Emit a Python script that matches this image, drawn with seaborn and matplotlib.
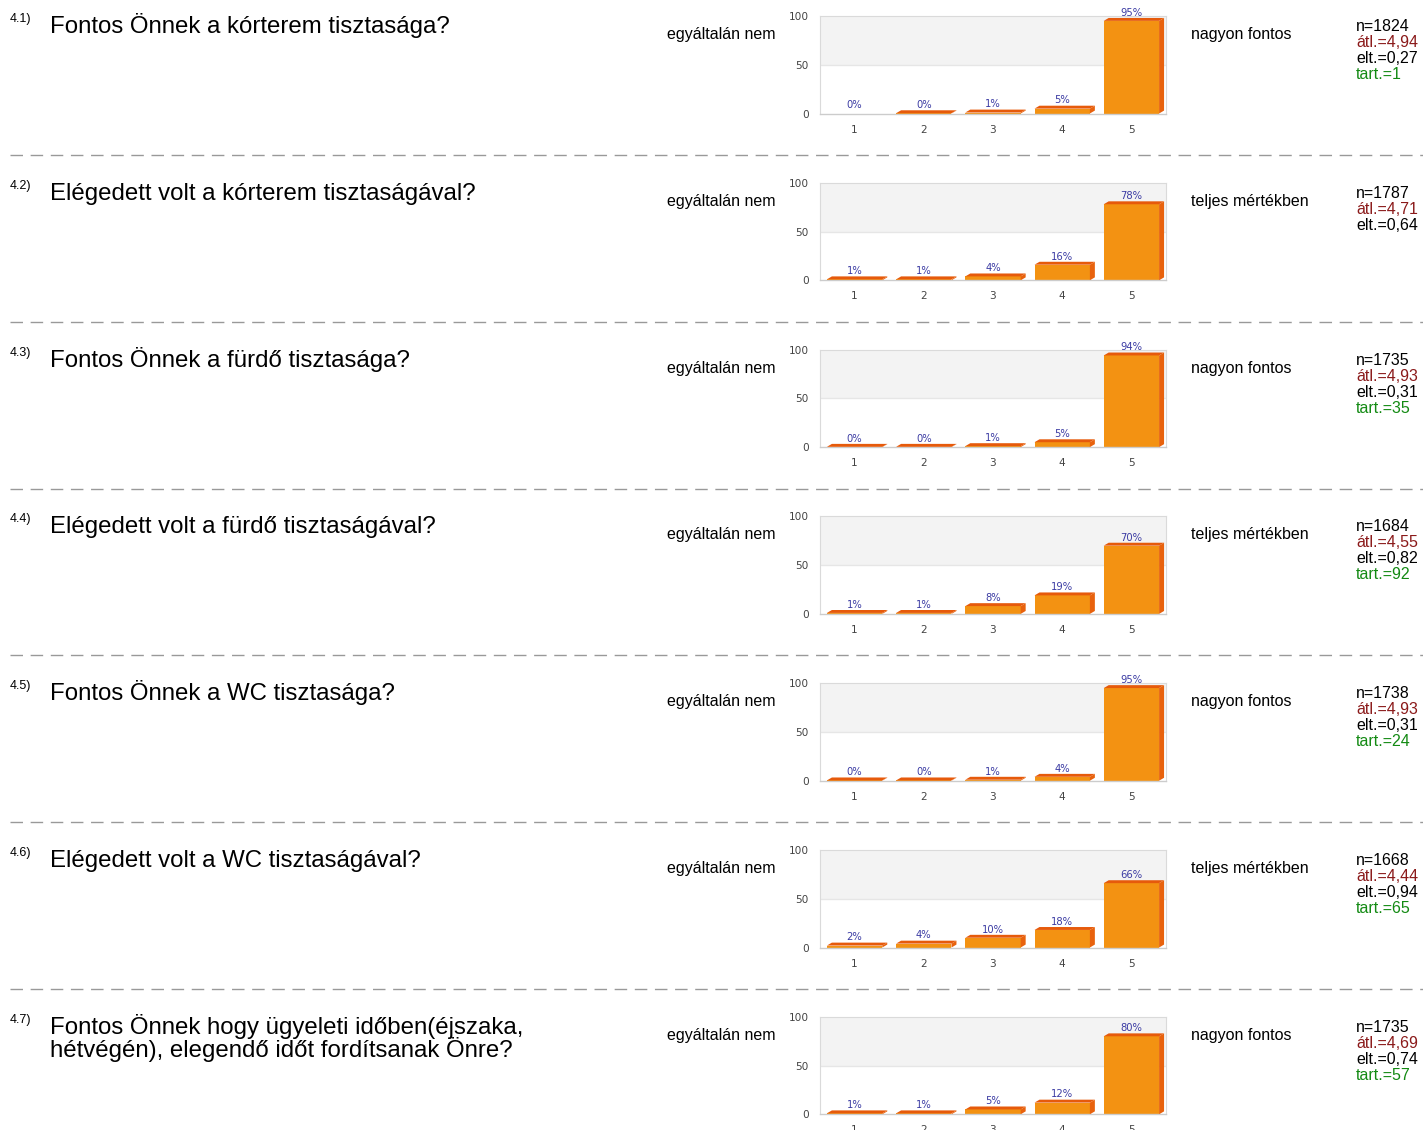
import matplotlib
matplotlib.use('Agg')
import matplotlib.pyplot as plt
from matplotlib.patches import Polygon
from matplotlib.lines import Line2D
import seaborn as sns

CATS = ['1', '2', '3', '4', '5']

NUMBERS = ['4.1)', '4.2)', '4.3)', '4.4)', '4.5)', '4.6)', '4.7)']
QUESTIONS = [
    'Fontos Önnek a kórterem tisztasága?',
    'Elégedett volt a kórterem tisztaságával?',
    'Fontos Önnek a fürdő tisztasága?',
    'Elégedett volt a fürdő tisztaságával?',
    'Fontos Önnek a WC tisztasága?',
    'Elégedett volt a WC tisztaságával?',
    'Fontos Önnek hogy ügyeleti időben(éjszaka,\nhétvégén), elegendő időt fordítsanak Önre?',
]
LEFT_LABELS = ['egyáltalán nem'] * 7
RIGHT_LABELS = ['nagyon fontos', 'teljes mértékben', 'nagyon fontos', 'teljes mértékben',
                'nagyon fontos', 'teljes mértékben', 'nagyon fontos']

# percentages per answer 1..5 (rounded values shown as labels)
PCT_41 = [0, 0.3, 1, 5, 95]
PCT_42 = [1, 1, 4, 16, 78]
PCT_43 = [0.3, 0.3, 1, 5, 94]
PCT_44 = [1, 1, 8, 19, 70]
PCT_45 = [0.3, 0.3, 1, 4, 95]
PCT_46 = [2, 4, 10, 18, 66]
PCT_47 = [1, 1, 5, 12, 80]
PERCENTS = [PCT_41, PCT_42, PCT_43, PCT_44, PCT_45, PCT_46, PCT_47]

N_VALUES = ['1824', '1787', '1735', '1684', '1738', '1668', '1735']
MEANS = ['4,94', '4,71', '4,93', '4,55', '4,93', '4,44', '4,69']
STDS = ['0,27', '0,64', '0,31', '0,82', '0,31', '0,94', '0,74']
TART = ['1', None, '35', '92', '24', '65', '57']

W, H = 1423, 1130
ROW_PITCH = 166.8
FRONT = '#F39212'
TOP = '#E65A0B'
SIDE = '#E8620D'


def fx(x):
    return x / W


def fy(y):
    return 1 - y / H


sns.set_style('white')
plt.rcParams['font.family'] = ['Liberation Sans', 'DejaVu Sans']

fig = plt.figure(figsize=(W / 100, H / 100), dpi=100)
fig.patch.set_facecolor('white')

for i, vals in enumerate(PERCENTS):
    r0 = i * ROW_PITCH

    # texts
    fig.text(fx(10), fy(r0 + 22), NUMBERS[i], fontsize=9, va='baseline', color='black')
    lines = QUESTIONS[i].split('\n')
    for j, line in enumerate(lines):
        fig.text(fx(50), fy(r0 + 33 + j * 23), line, fontsize=17.3, va='baseline', color='black')
    fig.text(fx(667), fy(r0 + 39), LEFT_LABELS[i], fontsize=11.5, va='baseline', color='black')
    fig.text(fx(1191), fy(r0 + 39), RIGHT_LABELS[i], fontsize=11.5, va='baseline', color='black')
    stats = [('n=' + N_VALUES[i], 'black'), ('átl.=' + MEANS[i], '#8B1A1A'),
             ('elt.=' + STDS[i], 'black')]
    if TART[i] is not None:
        stats.append(('tart.=' + TART[i], '#138A13'))
    for j, (s, c) in enumerate(stats):
        fig.text(fx(1356), fy(r0 + 31 + j * 16), s, fontsize=11.5, va='baseline', color=c)

    # chart
    ax = fig.add_axes([fx(820), fy(r0 + 113.5), (1166 - 820) / W, 97.5 / H])
    sns.barplot(x=CATS, y=vals, ax=ax, color=FRONT, saturation=1, width=0.8,
                edgecolor='none', zorder=2)
    ax.axhspan(50, 100, color='#F3F3F3', zorder=0, lw=0)
    ax.axhline(50, color='#E6E6E6', lw=1, zorder=0.5)
    ax.set_ylim(0, 100)
    ax.set_xlim(-0.5, 4.5)

    dx, dy = 0.072, 3.0
    for p, v in zip(ax.containers[0].patches, vals):
        x0 = p.get_x()
        x1 = x0 + p.get_width()
        h = p.get_height()
        if v > 0:
            ax.add_patch(Polygon([(x0, h), (x0 + dx, h + dy), (x1 + dx, h + dy), (x1, h)],
                                 closed=True, facecolor=TOP, edgecolor='none', zorder=3))
            ax.add_patch(Polygon([(x1, 0), (x1 + dx, dy), (x1 + dx, h + dy), (x1, h)],
                                 closed=True, facecolor=SIDE, edgecolor='none', zorder=3))
        ax.annotate(f'{round(v)}%', xy=(x0 + p.get_width() / 2, h + dy),
                    xytext=(0, 1.6), textcoords='offset points', ha='center', va='baseline',
                    fontsize=7.2, color='#3B3BA3', family='DejaVu Sans', zorder=4)

    ax.set_yticks([0, 50, 100])
    ax.set_xlabel('')
    ax.set_ylabel('')
    ax.tick_params(axis='both', length=0, labelsize=7.6, labelcolor='#444444')
    ax.tick_params(axis='y', pad=8)
    ax.tick_params(axis='x', pad=8)
    for lab in ax.get_xticklabels() + ax.get_yticklabels():
        lab.set_family('DejaVu Sans')
    for side in ['left', 'top', 'right']:
        ax.spines[side].set_color('#DADADA')
        ax.spines[side].set_linewidth(0.8)
    ax.spines['bottom'].set_color('#CCCCCC')
    ax.spines['bottom'].set_linewidth(1)

    # dashed separator below the row
    if i < len(PERCENTS) - 1:
        ys = fy(155 + i * ROW_PITCH)
        fig.add_artist(Line2D([fx(10), 1.0], [ys, ys], color='#999999', lw=1.0,
                              linestyle=(0, (9, 5.5))))

fig.savefig('out.png', dpi=100, facecolor='white')
